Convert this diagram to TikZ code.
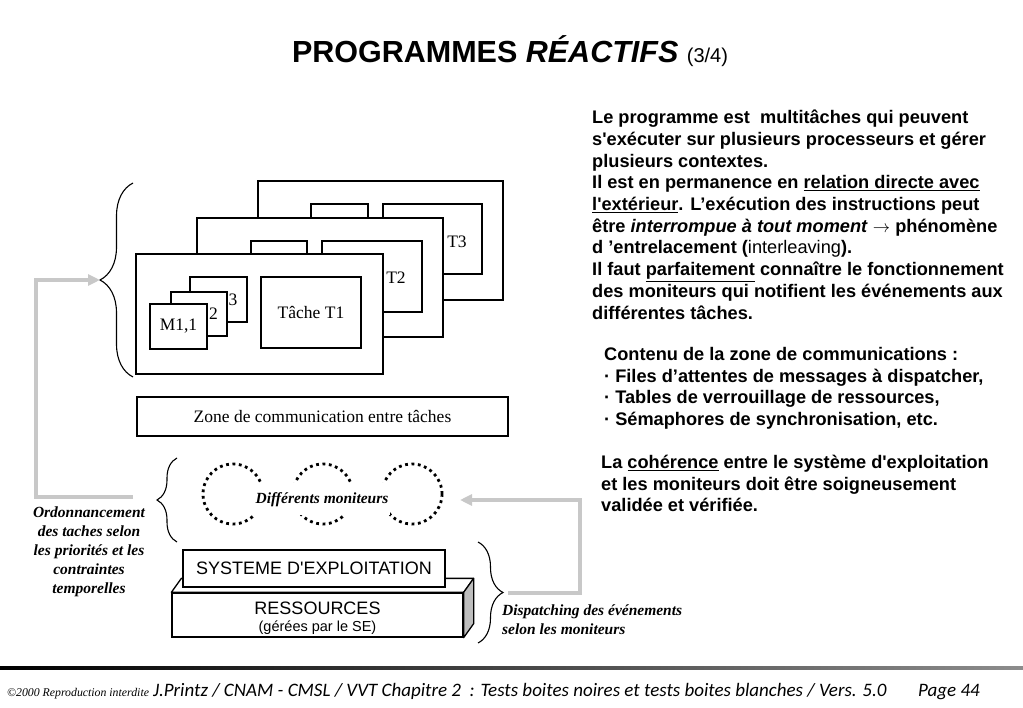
\documentclass[tikz,border=0pt]{standalone}
\usepackage{fontspec}
\setmainfont{Liberation Serif}
\setsansfont{Liberation Sans}[Ligatures=TeXOff]
\newfontfamily\footfont{Carlito}
\usetikzlibrary{positioning,calc,arrows.meta,decorations.pathreplacing}
\definecolor{ink}{HTML}{000000}
\definecolor{lgrey}{HTML}{C8C8C8}
\definecolor{sgrey}{HTML}{BEBEBE}
\tikzset{
  ttl/.style    ={font=\sffamily\bfseries\fontsize{30.5}{34}\selectfont, text=ink},
  win/.style    ={draw=ink, line width=2.8pt, fill=white, inner sep=0pt},
  sub/.style    ={draw=ink, line width=1.8pt, fill=white, inner sep=0pt,
                  font=\rmfamily\fontsize{17.5}{20}\selectfont},
  lbl/.style    ={font=\rmfamily\fontsize{17.5}{20}\selectfont, inner sep=0pt},
  zonebox/.style={draw=ink, line width=1.6pt, fill=white, inner sep=0pt,
                  font=\rmfamily\fontsize{17.5}{20}\selectfont},
  moni/.style   ={circle, draw=ink, line width=2.8pt, dash pattern=on 2.8pt off 3.6pt,
                  minimum size=60pt, inner sep=0pt},
  note/.style   ={font=\rmfamily\bfseries\itshape\fontsize{15.5}{19}\selectfont, inner sep=0pt},
  osbox/.style  ={draw=ink, line width=1.3pt, fill=white, inner sep=0pt,
                  font=\sffamily\fontsize{18}{20}\selectfont},
  face/.style   ={draw=ink, line width=1.3pt, line join=round},
  brc/.style    ={draw=ink, line width=1.1pt, decorate},
  garrow/.style ={draw=lgrey, line width=4pt, -{Triangle[length=12pt, width=11pt]}},
  txt/.style    ={font=\sffamily\bfseries\fontsize{18.2}{21.7}\selectfont, text=ink,
                  align=left, anchor=north west, inner sep=0pt},
}

\begin{document}
\begin{tikzpicture}[x=1pt, y=-1pt]
  \useasboundingbox (0,0) rectangle (1023,708);

  % ---- title ----
  \node[ttl, anchor=base] (title) at (510,63)
      {PROGRAMMES \textit{RÉACTIFS} {\mdseries\fontsize{20}{22}\selectfont (3/4)}};

  % ---- task windows, back to front ----
  \node[win, minimum width=245pt, minimum height=119pt] (t3) at (380.5,240.5) {};
  \node[sub, minimum width=57pt, minimum height=46pt] (t3a) at (339.5,227) {};
  \node[sub, minimum width=99pt, minimum height=70pt] (t3b) at (432.5,239) {};
  \node[lbl] (t3l) at (457,241.5) {T3};

  \node[win, minimum width=246pt, minimum height=119pt] (t2) at (320,277.5) {};
  \node[sub, minimum width=56pt, minimum height=39pt] (t2a) at (279,260.5) {};
  \node[sub, minimum width=100pt, minimum height=71pt] (t2b) at (372,276.5) {};
  \node[lbl] (t2l) at (396,278) {T2};

  \node[win, minimum width=247pt, minimum height=120pt] (t1) at (259.5,314) {};
  \node[sub, minimum width=100pt, minimum height=71pt] (tache) at (311,312.5) {Tâche T1};
  \node[sub, minimum width=57pt, minimum height=45pt] (m3) at (218.5,299.5) {};
  \node[lbl] (m3l) at (233,300) {3};
  \node[sub, minimum width=56pt, minimum height=44pt] (m2) at (199,314) {};
  \node[lbl] (m2l) at (213.5,314) {2};
  \node[sub, minimum width=57pt, minimum height=45pt] (m11) at (178.5,326.5) {M1,1};

  % brace round the windows
  \draw[brc, decoration={brace, amplitude=33pt}] (133,377) -- (133,183);
  \coordinate (tipL) at (100,280);

  % ---- communication zone ----
  \node[zonebox, minimum width=371pt, minimum height=39pt] (zone) at (322.5,416.5)
      {Zone de communication entre tâches};

  % ---- monitors ----
  \node[moni] (mon1) at (233,494) {};
  \node[moni] (mon2) at (323,494) {};
  \node[moni] (mon3) at (412,494) {};
  \node[note, fill=white, inner xsep=2pt, inner ysep=9pt, anchor=base] (monl) at (322,503)
      {Différents moniteurs};
  \draw[brc, decoration={brace, amplitude=20pt}] (177,542) -- (177,458);
  \coordinate (ordo) at (133,497);
  \coordinate (mtip) at (460,500);

  % ---- OS and resources ----
  \node[osbox, minimum width=291pt, minimum height=44pt] (res) at (317.5,615) {};
  \node[font=\sffamily\fontsize{18}{20}\selectfont, anchor=base, inner sep=0pt] (resl)
      at (317.5,614) {RESSOURCES};
  \node[font=\sffamily\fontsize{14.5}{16}\selectfont, anchor=base, inner sep=0pt] (resn)
      at (317.5,631) {(gérées par le SE)};
  \draw[face, fill=white] (res.north west) -- ++(10,-14) -- ($(res.north east)+(10,-14)$)
      -- (res.north east) -- cycle;
  \draw[face, fill=sgrey] (res.north east) -- ++(10,-14) -- ($(res.south east)+(10,-14)$)
      -- (res.south east) -- cycle;
  \node[osbox, minimum width=262pt, minimum height=37pt] (os) at (314,568.5)
      {SYSTEME D'EXPLOITATION};
  \draw[brc, decoration={brace, amplitude=25pt}] (478,542) -- (478,643);
  \coordinate (dsp) at (508,593);

  % ---- grey feedback arrows ----
  \draw[garrow] (ordo) -- ++(-97,0) |- (tipL);
  \draw[garrow] (dsp) -- ++(72,0) |- (mtip);

  % ---- side notes ----
  \node[note, align=center, anchor=north] (ordn) at (89,507)
      {Ordonnancement\\des taches selon\\les priorités et les\\contraintes\\temporelles};
  \node[note, align=left, anchor=north west] (dspn) at (502,605)
      {Dispatching des événements\\selon les moniteurs};

  % ---- right-hand text ----
  \node[txt] (para1) at (592,110)
      {Le programme est \ multitâches qui peuvent\\
       s'exécuter sur plusieurs processeurs et gérer\\
       plusieurs contextes.\\
       Il est en permanence en \underline{relation directe avec}\\
       \underline{l'extérieur}. L’exécution des instructions peut\\
       être \textit{interrompue à tout moment} $\rightarrow$ phénomène\\
       d ’entrelacement (\textmd{interleaving}).\\
       Il faut \underline{parfaitement} connaître le fonctionnement\\
       des moniteurs qui notifient les événements aux\\
       différentes tâches.};
  \node[txt] (para2) at (604,347)
      {Contenu de la zone de communications :\\
       · Files d’attentes de messages à dispatcher,\\
       · Tables de verrouillage de ressources,\\
       · Sémaphores de synchronisation, etc.};
  \node[txt] (para3) at (601,455)
      {La \underline{cohérence} entre le système d'exploitation\\
       et les moniteurs doit être soigneusement\\
       validée et vérifiée.};

  % ---- footer ----
  \fill[left color=ink, right color=ink!45] (0,666.5) rectangle (1023,669);
  \node[anchor=base west, inner sep=0pt, font=\rmfamily\itshape\fontsize{11.8}{12}\selectfont]
      (copy) at (7,696) {©2000 Reproduction interdite};
  \node[anchor=base west, inner sep=0pt, font=\footfont\itshape\fontsize{19}{20}\selectfont]
      (foot) at (153,696)
      {J.Printz / CNAM - CMSL / VVT Chapitre 2 \ : Tests boites noires et tests boites blanches / Vers. 5.0};
  \node[anchor=base west, inner sep=0pt, font=\footfont\itshape\fontsize{19}{20}\selectfont]
      (page) at (918,696) {Page 44};

\end{tikzpicture}
\end{document}
